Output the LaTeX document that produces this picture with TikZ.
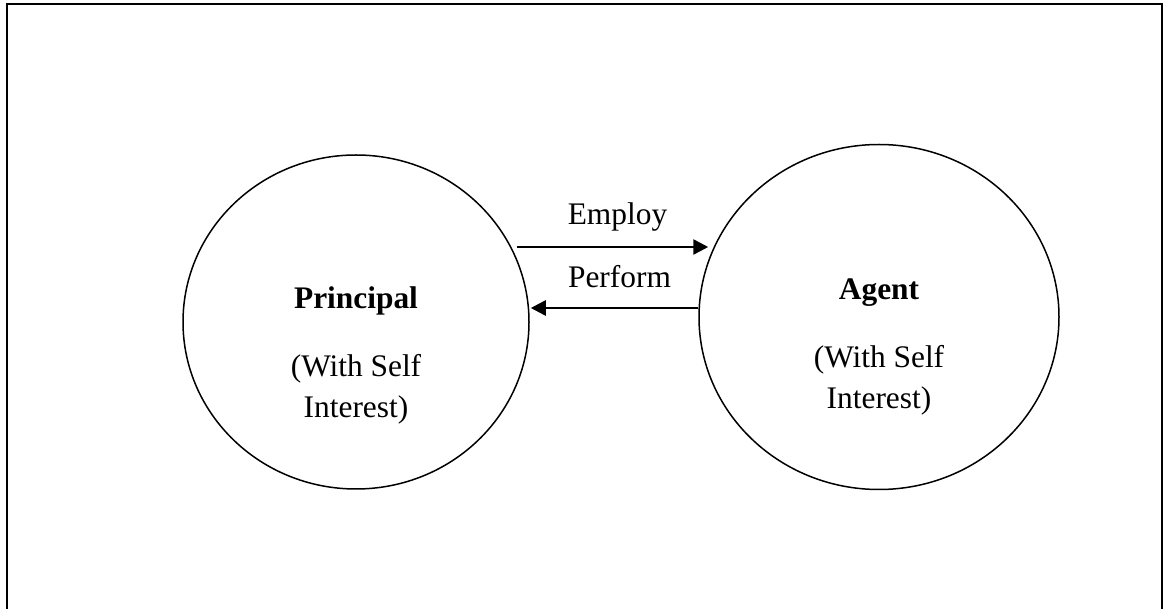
\documentclass[tikz,border=0pt]{standalone}
\usepackage{fontspec}
\setmainfont{Liberation Serif}
\usetikzlibrary{arrows.meta,shapes.geometric}

\begin{document}
\begin{tikzpicture}[x=1pt,y=-1pt,>={Triangle[length=15pt,width=15pt]},
        party/.style={ellipse,draw,line width=1.5pt,inner sep=0pt},
        heading/.style={font=\fontsize{31.4}{41}\selectfont\bfseries,anchor=base,inner sep=0pt},
        note/.style={font=\fontsize{31.4}{41}\selectfont,align=center,anchor=base,inner sep=0pt},
        word/.style={font=\fontsize{31.4}{41}\selectfont,anchor=base,inner sep=0pt},
        link/.style={->,line width=2.6pt}]
            \useasboundingbox (0,0) rectangle (1163,609);
            \clip (0,0) rectangle (1163,609);
            \draw [line width=2.2pt] (7,4) rectangle (1162,640);

            \node   [party,minimum width=346pt,minimum height=334pt]   (principal) at (356,322) {};
            \node   [party,minimum width=360pt,minimum height=345pt]   (agent)     at (879,317) {};

            % the base of a two-line note is its last line
            \node   [heading]   (principal title)   at ([yshift=13pt]principal.center)  {Principal};
            \node   [note]      (principal note)    at ([yshift=-96pt]principal.center) {(With Self\\Interest)};
            \node   [heading]   (agent title)       at ([yshift=17pt]agent.center)      {Agent};
            \node   [note]      (agent note)        at ([yshift=-92pt]agent.center)     {(With Self\\Interest)};

            \draw   [link] ([xshift=-13pt,yshift=75pt]principal.east) -- node [word,xshift=5pt,yshift=22pt] (employ) {Employ} ([xshift=10pt,yshift=70pt]agent.west);
            \draw   [link] ([yshift=9pt]agent.west) -- node [word,xshift=5pt,yshift=20pt] (perform) {Perform} ([xshift=1pt,yshift=14pt]principal.east);
        \end{tikzpicture}
\end{document}
